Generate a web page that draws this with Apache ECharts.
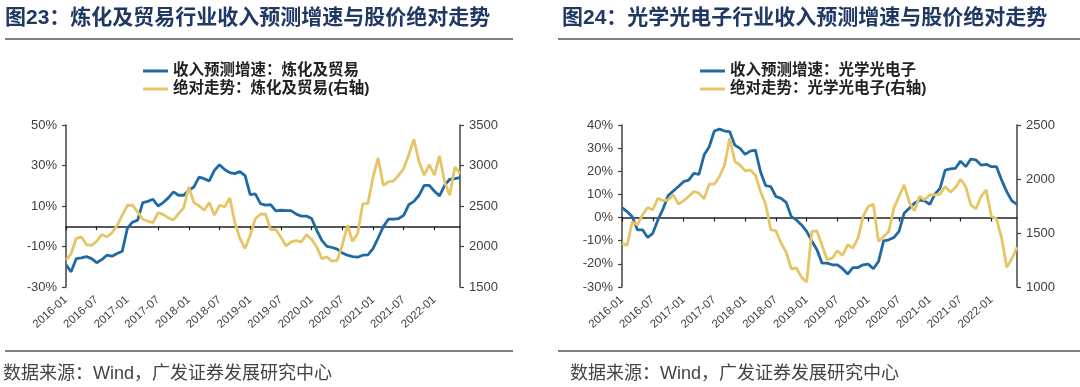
<!DOCTYPE html>
<html><head><meta charset="utf-8">
<script src="https://cdn.jsdelivr.net/npm/echarts@6/dist/echarts.min.js"></script>
<style>html,body{margin:0;padding:0;background:#fff}#c{width:1080px;height:387px}</style>
</head><body><div id="c"></div>
<script>
// categories: monthly 2016-01 .. 2022-06
var categories = [];
for (var y = 2016; y <= 2022; y++) {
  for (var m = 1; m <= 12; m++) {
    if (y === 2022 && m > 6) break;
    categories.push(y + '-' + (m < 10 ? '0' + m : m));
  }
}
var leftPctTicks = [-30, -10, 10, 30, 50];

// 图23 炼化及贸易
var growthRefining = [
  -19, -22.5, -16, -15.6, -15, -16, -18, -16.5, -14.3, -14.8,
  -13.5, -12.3, -1, 2, 3, 11.7, 12.3, 13.3, 10, 11.7,
  14, 17, 15.3, 15.3, 17.8, 19.4, 24.3, 23.5, 22.4, 27.6,
  30.4, 28, 26.5, 26, 27, 25, 15.6, 16, 11.2, 10.4,
  10.7, 7.6, 7.9, 7.7, 7.7, 6, 5, 5, 3.8, -2,
  -7, -9.9, -10.5, -11.3, -13.2, -14.3, -15, -15.3, -14.3, -14.1,
  -11, -5.8, -0.3, 3.5, 3.5, 3.8, 5.4, 10.7, 12.3, 15.3,
  20.2, 20.2, 17.3, 15, 20.2, 23.2, 23.5, 24
];
var priceRefining = [
  1830, 1913, 2098, 2118, 2024, 2015, 2065, 2147, 2118, 2172,
  2262, 2386, 2509, 2509, 2427, 2336, 2312, 2295, 2419, 2394,
  2353, 2328, 2406, 2476, 2736, 2542, 2501, 2448, 2542, 2386,
  2509, 2489, 2600, 2295, 2098, 1974, 2139, 2345, 2398, 2398,
  2209, 2209, 2118, 2007, 2057, 2073, 2057, 2147, 2090, 1995,
  1851, 1871, 1818, 1830, 2015, 2262, 2065, 2159, 2530, 2530,
  2859, 3094, 2756, 2797, 2806, 2880, 2962, 3135, 3324, 3044,
  2880, 3011, 2880, 3118, 2797, 2633, 2982, 2900
];

// 图24 光学光电子
var growthOptics = [
  4.3, 2.6, 0.4, -5.3, -5.3, -8.6, -6.8, -1.0, 3.7, 9.5,
  11.5, 13.4, 15.5, 16.2, 19.1, 18.7, 27, 30.6, 37.4, 38.2,
  37.4, 37.1, 31.3, 29.9, 27.3, 28.7, 29.2, 19.8, 13.8, 13.4,
  9.1, 8.3, 6.6, 0.4, -1.0, -3.2, -6.0, -10.1, -13.9, -19.7,
  -19.7, -20.4, -20.4, -22.1, -24.4, -21.6, -21.6, -20.4, -20.1, -22.1,
  -19, -10.1, -9.6, -8.6, -6.0, 1.9, 4.0, 6.2, 7.5, 7.2,
  5.7, 10.1, 12.6, 20.5, 21.0, 21.3, 24.4, 22.0, 25.3, 24.9,
  22.7, 23.0, 22.0, 22.0, 16.2, 11.2, 7.2, 5.7
];
var priceOptics = [
  1407, 1385, 1601, 1576, 1668, 1736, 1715, 1822, 1798, 1807,
  1853, 1767, 1798, 1838, 1884, 1869, 1816, 1952, 1952, 2023,
  2130, 2377, 2161, 2130, 2075, 2084, 2038, 1884, 1767, 1530,
  1521, 1407, 1323, 1169, 1176, 1089, 1046, 1514, 1520, 1385,
  1253, 1268, 1336, 1293, 1391, 1360, 1453, 1653, 1745, 1767,
  1422, 1468, 1514, 1730, 1838, 1946, 1785, 1705, 1838, 1807,
  1853, 1853, 1859, 1930, 1878, 1921, 1998, 1930, 1761, 1724,
  1838, 1899, 1653, 1631, 1453, 1182, 1262, 1367
];

var titles = ['图23：炼化及贸易行业收入预测增速与股价绝对走势', '图24：光学光电子行业收入预测增速与股价绝对走势'];
var namesL = ['收入预测增速：炼化及贸易', '绝对走势：炼化及贸易(右轴)'];
var namesR = ['收入预测增速：光学光电子', '绝对走势：光学光电子(右轴)'];
var source = '数据来源：Wind，广发证券发展研究中心';

var BLUE = '#1f6aa5', GOLD = '#e6c566', AX = '#404040';
var FF = "'Liberation Sans','Noto Sans CJK SC',sans-serif";

function xZero(g) {
  return { gridIndex: g, type: 'category', data: categories, boundaryGap: false, position: 'bottom',
    axisLine: { onZero: true, lineStyle: { color: '#222', width: 1.5 } },
    axisTick: { interval: 5, length: 4, lineStyle: { color: '#222', width: 1.2 } },
    axisLabel: { show: false }, splitLine: { show: false } };
}
function xLabels(g) {
  return { gridIndex: g, type: 'category', data: categories, boundaryGap: false, position: 'bottom',
    axisLine: { show: false, onZero: false }, axisTick: { show: false },
    axisLabel: { interval: 5, rotate: 42, fontSize: 11.5, color: AX, margin: 11, fontFamily: FF },
    splitLine: { show: false } };
}
function plain(v) { return String(v); }
function yAx(g, pos, min, max, interval, fmt, custom) {
  var a = { gridIndex: g, type: 'value', position: pos, min: min, max: max, interval: interval,
    axisLine: { show: true, onZero: false, lineStyle: { color: AX, width: 1.5 } },
    axisTick: { show: true, length: 4, lineStyle: { color: AX, width: 1.2 } },
    axisLabel: { fontSize: 13, color: AX, margin: 9, fontFamily: FF, formatter: fmt },
    splitLine: { show: false } };
  if (custom) { a.axisLabel.customValues = custom; a.axisTick.customValues = custom; }
  return a;
}
function ser(name, xi, yi, data, color) {
  return { name: name, type: 'line', xAxisIndex: xi, yAxisIndex: yi, data: data, symbol: 'none',
    lineStyle: { color: color, width: 2.8 }, itemStyle: { color: color }, z: yi % 2 ? 3 : 2 };
}
function legend(left, names) {
  return { left: left, top: 62, padding: 0, orient: 'vertical', itemGap: 0, icon: 'rect', itemWidth: 25, itemHeight: 3,
    data: names, textStyle: { fontSize: 15.5, lineHeight: 18, color: '#222', fontWeight: 'bold', fontFamily: FF } };
}
function hline(x1, x2, y) {
  return { type: 'line', shape: { x1: x1, y1: y, x2: x2, y2: y }, style: { stroke: '#555', lineWidth: 1.5 } };
}

var chart = echarts.init(document.getElementById('c'), null, { renderer: 'canvas' });
chart.setOption({
  animation: false,
  textStyle: { fontFamily: FF },
  title: [
    { text: titles[0], left: 5, top: 8, padding: 0, textStyle: { fontSize: 21, fontWeight: 'bold', color: '#1f3864', fontFamily: FF } },
    { text: titles[1], left: 562, top: 8, padding: 0, textStyle: { fontSize: 21, fontWeight: 'bold', color: '#1f3864', fontFamily: FF } },
    { text: source, left: 3, top: 365, padding: 0, textStyle: { fontSize: 18, fontWeight: 'normal', color: '#444', fontFamily: FF } },
    { text: source, left: 570, top: 365, padding: 0, textStyle: { fontSize: 18, fontWeight: 'normal', color: '#444', fontFamily: FF } }
  ],
  graphic: [hline(5, 513, 39), hline(558, 1080, 39), hline(5, 513, 351), hline(558, 1080, 351)],
  legend: [legend(143, namesL), legend(700, namesR)],
  grid: [
    { left: 66, top: 125, width: 394, height: 162 },
    { left: 622, top: 125, width: 395, height: 162 }
  ],
  xAxis: [xZero(0), xLabels(0), xZero(1), xLabels(1)],
  yAxis: [
    yAx(0, 'left', -30, 50, 20, '{value}%', leftPctTicks),
    yAx(0, 'right', 1500, 3500, 500, plain),
    yAx(1, 'left', -30, 40, 10, '{value}%'),
    yAx(1, 'right', 1000, 2500, 500, plain)
  ],
  series: [
    ser(namesL[0], 0, 0, growthRefining, BLUE),
    ser(namesL[1], 0, 1, priceRefining, GOLD),
    ser(namesR[0], 2, 2, growthOptics, BLUE),
    ser(namesR[1], 2, 3, priceOptics, GOLD)
  ]
});
</script></body></html>
